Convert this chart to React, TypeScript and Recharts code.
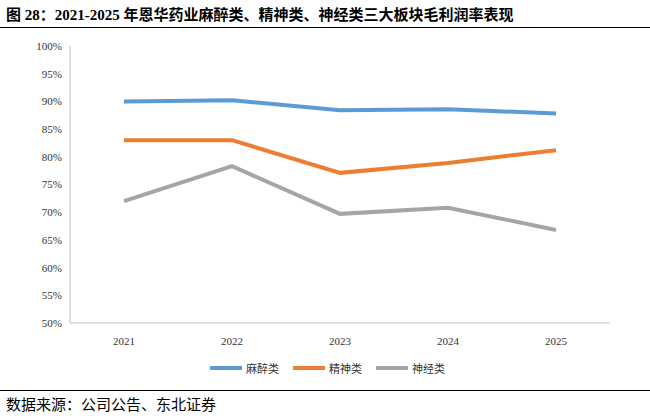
import { LineChart, Line, XAxis, YAxis } from 'recharts';

const years = ['2021', '2022', '2023', '2024', '2025'];
const anesthesia = [90.0, 90.2, 88.4, 88.6, 87.8];
const psychiatric = [83.0, 83.0, 77.1, 78.9, 81.2];
const neuro = [72.0, 78.3, 69.7, 70.8, 66.8];
const yTicks = [50, 55, 60, 65, 70, 75, 80, 85, 90, 95, 100];
const seriesNames = ['麻醉类', '精神类', '神经类'];
const colors = ['#5B9BD5', '#ED7D31', '#A5A5A5'];

const data = years.map((y, i) => ({
  name: y,
  麻醉类: anesthesia[i],
  精神类: psychiatric[i],
  神经类: neuro[i],
}));

const serif = '"Liberation Serif", "Noto Sans CJK SC", serif';

export default function App() {
  return (
    <div style={{ position: 'absolute', left: 0, top: 0, width: 650, height: 420, background: '#fff', fontFamily: serif }}>
      <div style={{ position: 'absolute', left: 6, top: 3, fontSize: 15, fontWeight: 'bold', color: '#000' }}>
        图 28：2021-2025 年恩华药业麻醉类、精神类、神经类三大板块毛利润率表现
      </div>
      <div style={{ position: 'absolute', left: 0, top: 27, width: 650, borderTop: '1px solid #000' }} />
      <div style={{ position: 'absolute', left: 0, top: 30 }}>
        <LineChart width={650} height={323} data={data} margin={{ top: 16, right: 40, left: 0, bottom: 0 }}>
          <XAxis dataKey="name" padding={{ left: 54, right: 54 }} tick={{ fontSize: 11, fill: '#333', fontFamily: serif }} tickLine={false} stroke="#bfbfbf" height={30} tickMargin={8} />
          <YAxis domain={[50, 100]} ticks={yTicks} tickFormatter={v => `${v}%`} tick={{ fontSize: 11, fill: '#333', fontFamily: serif }} tickLine={false} stroke="#bfbfbf" width={70} />
          {seriesNames.map((s, i) => (
            <Line key={s} dataKey={s} stroke={colors[i]} strokeWidth={4} dot={false} isAnimationActive={false} />
          ))}
        </LineChart>
      </div>
      <div style={{ position: 'absolute', left: 210, top: 360, display: 'flex', gap: 14, fontSize: 11, color: '#333' }}>
        {seriesNames.map((s, i) => (
          <div key={s} style={{ display: 'flex', alignItems: 'center', gap: 4 }}>
            <span style={{ display: 'inline-block', width: 32, height: 4, background: colors[i] }} />
            <span>{s}</span>
          </div>
        ))}
      </div>
      <div style={{ position: 'absolute', left: 0, top: 390, width: 650, borderTop: '1px solid #000' }} />
      <div style={{ position: 'absolute', left: 6, top: 393, fontSize: 15, color: '#000' }}>数据来源：公司公告、东北证券</div>
    </div>
  );
}
